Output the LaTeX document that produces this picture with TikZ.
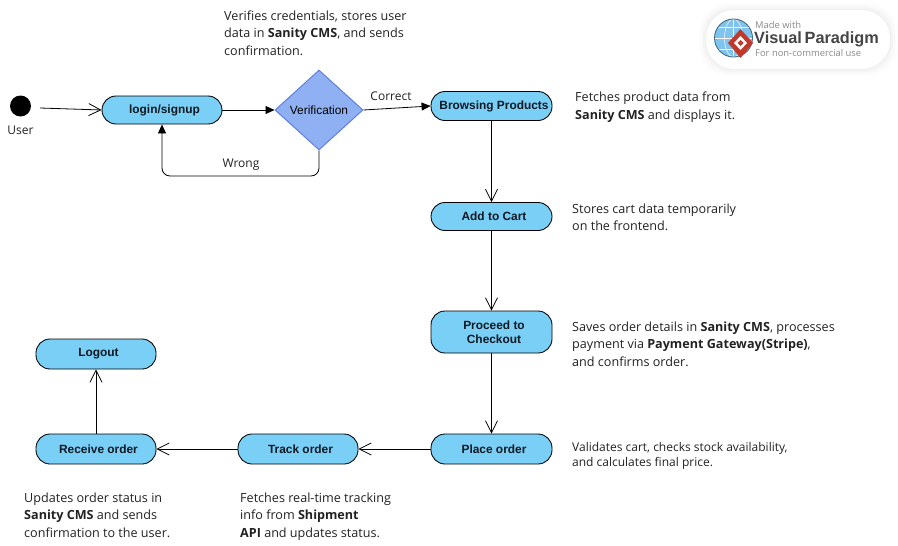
\documentclass[tikz,border=0pt]{standalone}
\usepackage{fontspec}
\setmainfont{Open Sans}
\newfontfamily\lab{Liberation Sans}
\usetikzlibrary{arrows.meta,shapes.geometric,positioning}
\definecolor{actfill}{HTML}{7ACFF6}
\definecolor{diafill}{HTML}{8FB0F2}
\definecolor{diaedge}{HTML}{5F7FDD}
\definecolor{txt}{HTML}{222222}
\definecolor{labtxt}{HTML}{101822}
\definecolor{logogray}{HTML}{8A8A8A}
\definecolor{logodark}{HTML}{454545}
\definecolor{logored}{HTML}{C0392B}
\definecolor{globe}{HTML}{7FC4EE}
\newcommand\sht{\hspace*{5pt}}
\tikzset{
  x=1pt,y=-1pt,
  activity/.style={draw=black,line width=0.85pt,fill=actfill,rounded corners=14pt,minimum width=120pt,
    inner sep=0pt,font=\lab\bfseries\fontsize{11.9}{13.5}\selectfont,align=center,text=labtxt},
  note/.style={anchor=north west,inner sep=0pt,align=left,font=\fontsize{12.6}{17.6}\selectfont,text=txt},
  flow/.style={draw=black,line width=0.8pt,-{Triangle[length=9pt,width=8pt]}},
  openflow/.style={draw=black,line width=0.8pt,-{Straight Barb[length=12pt,width=12pt,line width=0.8pt]}},
  edgelab/.style={font=\fontsize{12}{14}\selectfont,text=txt,inner sep=0pt},
}
\begin{document}
\begin{tikzpicture}
\useasboundingbox (0,0) rectangle (898,546);
\fill[white] (0,0) rectangle (898,546);
% start
\node[circle,fill=black,minimum size=21pt,inner sep=0pt] (start) at (20.5,106) {};
\node[edgelab] (userlab) at (20.5,130) {User};
% activities
\node[activity,minimum height=28pt] (login) at (162,110) {\sht login/signup};
\node[diamond,draw=diaedge,line width=1pt,fill=diafill,minimum width=88pt,minimum height=80pt,inner sep=0pt,
  font=\lab\fontsize{11.9}{13}\selectfont] (verify) at (319,110) {\makebox[0pt]{Verification}};
\node[activity,minimum height=29pt,minimum width=121pt] (browse) at (491.5,106) {\makebox[0pt]{\sht Browsing Products}};
\node[activity,minimum height=28pt,minimum width=121pt] (cart) at (491.5,216.5) {\sht Add to Cart};
\node[activity,minimum height=42pt,minimum width=121pt] (checkout) at (491.5,332) {\sht Proceed to\\\sht Checkout};
\node[activity,minimum height=30pt,minimum width=121pt] (place) at (491.5,449) {\sht Place order};
\node[activity,minimum height=30pt] (track) at (298,449) {\sht Track order};
\node[activity,minimum height=30pt] (receive) at (96,449) {\sht Receive order};
\node[activity,minimum height=30pt] (logout) at (96,354) {\sht Logout};
% free ends
\coordinate (startout) at (40,108);
\coordinate (verifybelow) at (319,176);
\coordinate (loginbelow) at (162,176);
% connectors
\draw[openflow] (startout) -- (login.west);
\draw[flow] (login.east) -- (verify.west);
\draw[flow] (verify.east) -- (browse.west);
\draw[flow,rounded corners=8pt] (verify.south) -- (verifybelow) -- (loginbelow) -- (login.south);
\draw[openflow] (browse.south) -- (cart.north);
\draw[openflow] (cart.south) -- (checkout.north);
\draw[openflow] (checkout.south) -- (place.north);
\draw[openflow] (place.west) -- (track.east);
\draw[openflow] (track.west) -- (receive.east);
\draw[openflow] (receive.north) -- (logout.south);
\node[edgelab] (wronglab) at (241,164.5) {Wrong};
\node[edgelab] (correctlab) at (391,96) {Correct};
% notes
\node[note] (n1) at (224,10.5) {Verifies credentials, stores user\\data in \textbf{Sanity CMS}, and sends\\confirmation.};
\node[note] (n2) at (575,92) {Fetches product data from\\\textbf{Sanity CMS} and displays it.};
\node[note] (n3) at (572,203.5) {Stores cart data temporarily\\on the frontend.};
\node[note] (n4) at (572,321.5) {Saves order details in \textbf{Sanity CMS}, processes\\payment via \textbf{Payment Gateway(Stripe)},\\and confirms order.};
\node[note,font=\fontsize{12}{15}\selectfont] (n5) at (572,442.5) {Validates cart, checks stock availability,\\and calculates final price.};
\node[note] (n6) at (240,492.5) {Fetches real-time tracking\\info from \textbf{Shipment}\\\textbf{API} and updates status.};
\node[note] (n7) at (24,492.5) {Updates order status in\\\textbf{Sanity CMS} and sends\\confirmation to the user.};
% logo
\foreach \g/\o in {7/0.008,5/0.012,3/0.018,1/0.025}{
  \fill[black,opacity=\o,rounded corners=28pt] (706-\g,10-\g) rectangle (890+\g,69+\g);
}
\fill[white,rounded corners=28pt] (706,10) rectangle (890,69);
\fill[globe] (733.5,38) circle (19pt);
\draw[white,line width=0.5pt] (733.5,19) -- (733.5,57) (714.5,38) -- (752.5,38)
  (718.5,27) -- (748.5,27) (718.5,49) -- (748.5,49);
\draw[white,line width=0.5pt] (733.5,38) ellipse (9pt and 19pt);
\draw[black!45!globe,line width=0.9pt] (733.5,38) circle (19pt);
\fill[logored] (728,43) -- (740.5,29) -- (753,43) -- (740.5,58) -- cycle;
\fill[white] (740.5,36) -- (747,43) -- (740.5,50) -- (734,43) -- cycle;
\fill[logored] (740.5,40) -- (743.5,43) -- (740.5,46) -- (737.5,43) -- cycle;
\node[anchor=west,inner sep=0pt,font=\fontsize{9.4}{11}\selectfont,text=logogray] (lg1) at (755,25) {Made with};
\node[anchor=west,inner sep=0pt,font=\lab\bfseries\fontsize{16.3}{17}\selectfont,text=logodark] (lg2) at (754,39) {Visual\,Paradigm};
\node[anchor=west,inner sep=0pt,font=\fontsize{9.4}{11}\selectfont,text=logogray] (lg3) at (755,53) {For non-commercial use};
\end{tikzpicture}
\end{document}
